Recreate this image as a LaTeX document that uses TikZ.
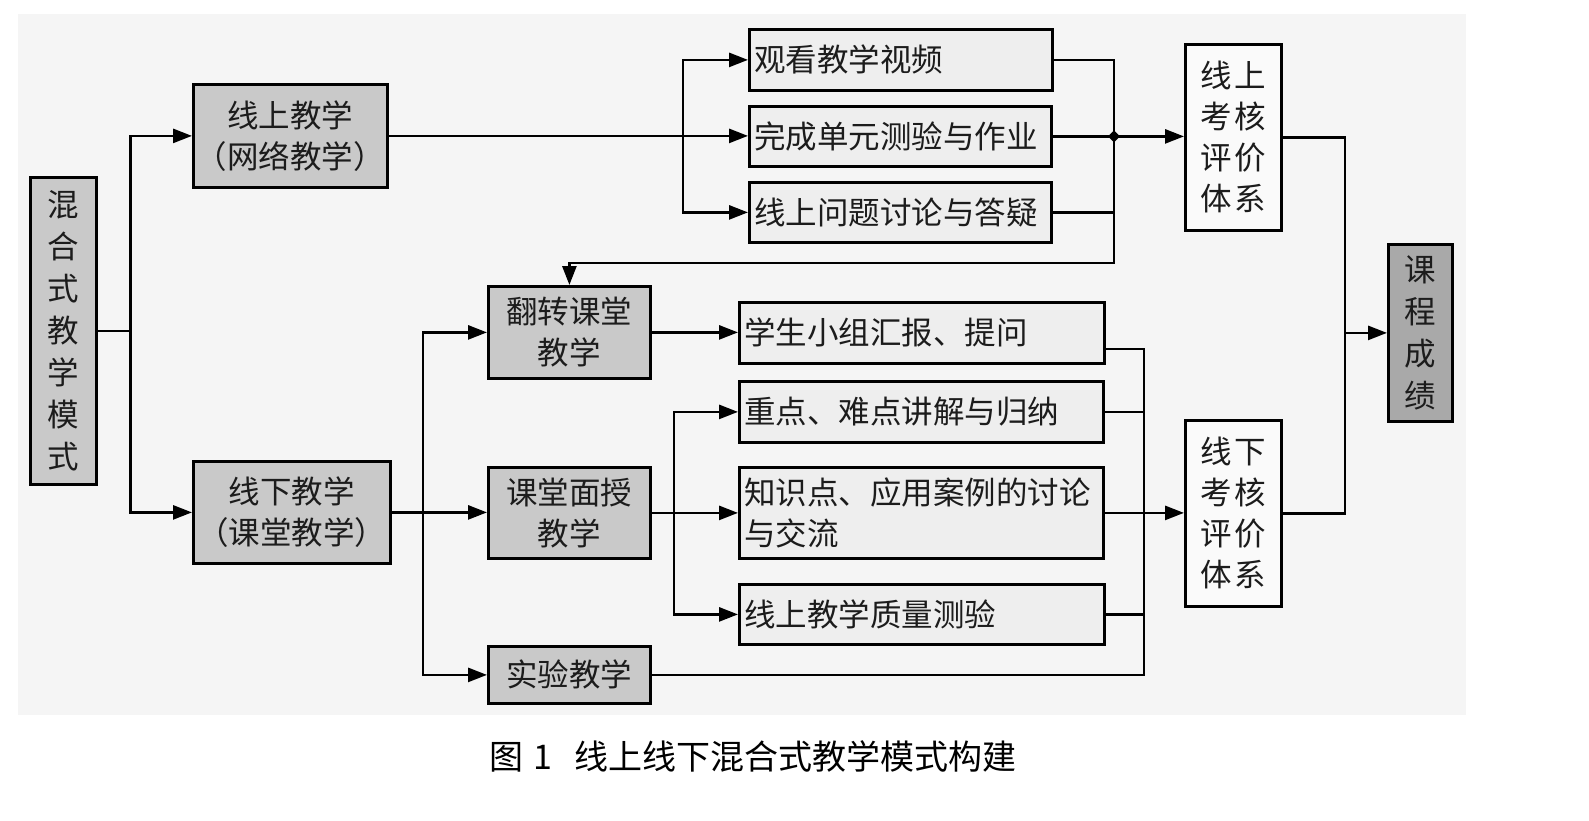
\documentclass[tikz,border=0pt]{standalone}
\usepackage{fontspec}
\newfontfamily\cjk{Noto Sans CJK SC}
\usetikzlibrary{arrows.meta}
\definecolor{panel}{HTML}{F5F5F5}
\definecolor{boxgray}{HTML}{C9C9C9}
\definecolor{boxlight}{HTML}{EEEEEE}
\definecolor{boxwhite}{HTML}{FAFAFA}
\definecolor{boxdark}{HTML}{A9A9A9}
\definecolor{ink}{HTML}{1C1C1C}
\tikzset{
  box/.style={draw=black, line width=2.8pt, inner sep=0pt, anchor=north west,
    text=ink, font=\cjk\fontsize{31.5}{41}\selectfont, align=center},
  graybox/.style={box, fill=boxgray},
  lightbox/.style={box, fill=boxlight, align=left, inner xsep=5pt},
  whitebox/.style={box, fill=boxwhite},
  darkbox/.style={box, fill=boxdark},
  vtext/.style={font=\cjk\fontsize{31.5}{42}\selectfont},
  conn/.style={line width=2.7pt, draw=black},
  arr/.style={-{Triangle[length=19pt,width=14pt]}},
}
\begin{document}
\begin{tikzpicture}[x=1pt,y=-1pt]
\useasboundingbox (0,0) rectangle (1589,821);
\fill[white] (0,0) rectangle (1589,821);
\fill[panel] (18,14) rectangle (1466,715);

% nodes
\node[graybox, vtext, minimum width=66pt, minimum height=307pt] (A) at (29,176) {混\\合\\式\\教\\学\\模\\式};
\node[graybox, minimum width=194pt, minimum height=103pt] (B) at (192,83) {线上教学\\（网络教学）};
\node[graybox, minimum width=197pt, minimum height=102pt] (C) at (192,460) {线下教学\\（课堂教学）};

\node[lightbox, text width=293pt, minimum height=61pt] (V1) at (748,28) {观看教学视频};
\node[lightbox, text width=292pt, minimum height=60pt] (V2) at (748,105) {完成单元测验与作业};
\node[lightbox, text width=292pt, minimum height=60pt] (V3) at (748,181) {线上问题讨论与答疑};

\node[whitebox, minimum width=96pt, minimum height=186pt] (D) at (1184,43) {线\hspace{3pt}上\\考\hspace{3pt}核\\评\hspace{3pt}价\\体\hspace{3pt}系};
\node[whitebox, minimum width=96pt, minimum height=186pt] (E) at (1184,419) {线\hspace{3pt}下\\考\hspace{3pt}核\\评\hspace{3pt}价\\体\hspace{3pt}系};
\node[darkbox, vtext, minimum width=64pt, minimum height=177pt] (F) at (1387,243) {课\\程\\成\\绩};

\node[graybox, minimum width=162pt, minimum height=92pt] (G) at (487,285) {翻转课堂\\教学};
\node[graybox, minimum width=162pt, minimum height=91pt] (H) at (487,466) {课堂面授\\教学};
\node[graybox, minimum width=162pt, minimum height=57pt] (I) at (487,645) {实验教学};

\node[lightbox, text width=355pt, minimum height=61pt] (J) at (738,301) {学生小组汇报、提问};
\node[lightbox, text width=354pt, minimum height=61pt] (K) at (738,380) {重点、难点讲解与归纳};
\node[lightbox, text width=354pt, minimum height=91pt] (L) at (738,466) {知识点、应用案例的讨论\\与交流};
\node[lightbox, text width=355pt, minimum height=60pt] (M) at (738,583) {线上教学质量测验};

\node[anchor=west, text=black, font=\cjk\fontsize{34}{40}\selectfont, inner sep=0pt] (cap) at (489,756) {图\hspace{10pt}1\hspace{22pt}线上线下混合式教学模式构建};

% connectors
\draw[conn] (A.east) -- ++(33,0) coordinate (a1);
\draw[conn,arr] (a1) |- (B.west);
\draw[conn,arr] (a1) |- (C.west);

\coordinate (b1) at (683,0);
\draw[conn,arr] (B.east) -- (B.east -| V2.west);
\draw[conn,arr] (b1 |- B.east) |- (V1.west);
\draw[conn,arr] (b1 |- B.east) |- (V3.west);

\coordinate (r1) at (1114,263);
\draw[conn,arr] (V1.east) -| (r1) -| (G.north);
\draw[conn] (V3.east) -- (V3.east -| r1);
\draw[conn,arr] (V2.east) -- (V2.east -| D.west);
\fill (V2.east -| r1) ++(-6,0) -- ++(6,-6) -- ++(6,6) -- ++(-6,6) -- cycle;

\coordinate (r2) at (1345,0);
\draw[conn] (D.east) -| (r2 |- E.east) -- (E.east);
\draw[conn,arr] (r2 |- F.west) -- (F.west);

\coordinate (c1) at (423,0);
\draw[conn,arr] (C.east) -- (C.east -| H.west);
\draw[conn,arr] (c1 |- C.east) |- (G.west);
\draw[conn,arr] (c1 |- C.east) |- (I.west);

\draw[conn,arr] (G.east) -- (G.east -| J.west);

\coordinate (h1) at (674,0);
\draw[conn,arr] (H.east) -- (H.east -| L.west);
\draw[conn,arr] (h1 |- H.east) |- (K.west);
\draw[conn,arr] (h1 |- H.east) |- (M.west);

\coordinate (r3) at (1144,349);
\draw[conn] (J.east |- r3) -- (r3) -- (r3 |- I.east) -- (I.east);
\draw[conn] (K.east) -- (K.east -| r3);
\draw[conn] (M.east) -- (M.east -| r3);
\draw[conn,arr] (L.east) -- (L.east -| E.west);
\end{tikzpicture}
\end{document}
